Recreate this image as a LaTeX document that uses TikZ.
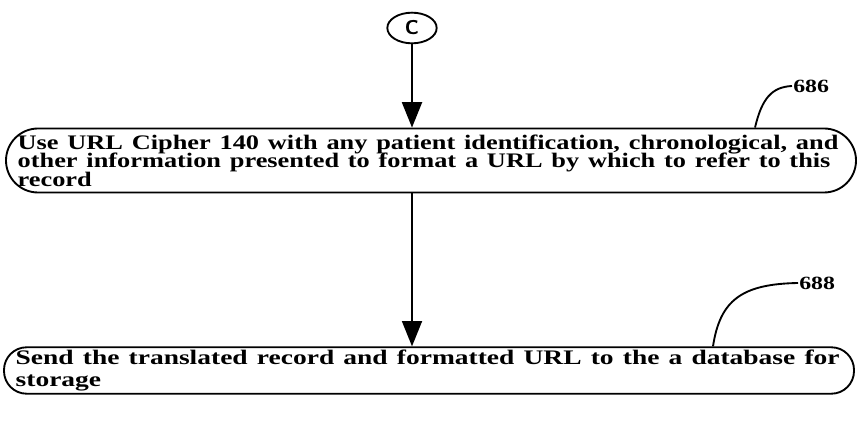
\documentclass[tikz,border=0pt]{standalone}
\usepackage{fontspec}
\setmainfont{Liberation Serif}
\usetikzlibrary{arrows.meta,shapes.geometric}

% the scanned lettering runs wide
\newcommand{\wideline}[2][1.275]{\scalebox{#1}[1]{#2}}
\newcommand{\tightlines}{\lineskiplimit=-6pt\relax}

\tikzset{
  stepbox/.style={draw, line width=1.4pt, rounded corners=24pt, inner xsep=8.75pt, inner ysep=2pt,
    text width=620pt, align=left, font=\bfseries\fontsize{15.5}{14}\selectfont\tightlines},
  flow/.style={line width=1.4pt, -{Triangle[width=15pt,length=19pt]}},
  leader/.style={line width=1.4pt},
  refnum/.style={font=\bfseries\fontsize{14}{14}\selectfont, inner sep=0.75pt, anchor=west}
}

\begin{document}
\begin{tikzpicture}[x=0.75pt,y=0.75pt,yscale=-1,xscale=1]
\useasboundingbox (0,0) rectangle (866,423);

% connector circle
\node [draw, ellipse, line width=1.4pt, minimum width=37pt, minimum height=23pt, inner sep=0pt,
       font=\sffamily\bfseries\fontsize{15}{15}\selectfont] (C) at (412,28) {C};

% step 686
\node [stepbox, minimum width=637.5pt, minimum height=48pt] (b686) at (431,160.5)
  {\wideline{Use URL Cipher 140 with any patient identification, chronological, and}\\
   \wideline{other information presented to format a URL by which to refer to this}\\
   \wideline{record}};

% step 688
\node [stepbox, rounded corners=17pt, minimum width=634.5pt, minimum height=33pt,
       font=\bfseries\fontsize{15.5}{16.5}\selectfont] (b688) at (429,370.5)
  {\wideline[1.33]{Send the translated record and formatted URL to the a database for}\\
   \wideline[1.33]{storage}};

% reference numerals
\node [refnum] (n686) at (792,86) {\wideline{686}};
\node [refnum] (n688) at (798,283) {\wideline{688}};
\coordinate (a686) at (755,0);
\coordinate (a688) at (713,0);

% flow arrows
\draw [flow] (C.south) -- (C.south |- b686.north);
\draw [flow] (b686.south -| C.south) -- (b688.north -| C.south);

% leaders
\draw [leader] (b686.north -| a686) .. controls (762,98) and (772,87) .. (n686.west);
\draw [leader] (b688.north -| a688) .. controls (720,300) and (742,284) .. (n688.west);

\end{tikzpicture}
\end{document}
